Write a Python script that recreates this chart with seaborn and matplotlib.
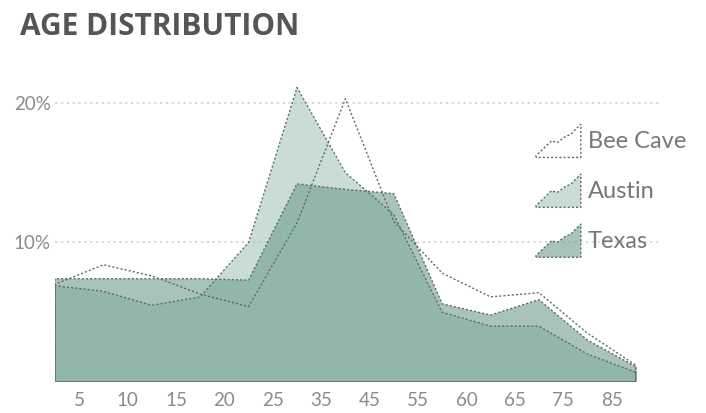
import matplotlib
matplotlib.use("Agg")
import matplotlib.pyplot as plt
import numpy as np
import seaborn as sns
from matplotlib.legend_handler import HandlerPatch
from matplotlib.patches import Patch, Polygon

# ─── Data (percent of population per age bin) ────────────────────────────────

age_bins = ["Under 5", "5-9", "10-14", "15-19", "20-24", "25-34", "35-44",
            "45-54", "55-59", "60-64", "65-74", "75-84", "85+"]
tick_labels = ["5", "10", "15", "20", "25", "35", "45", "55", "60", "65", "75", "85"]

bee_cave = [7.0, 8.4, 7.6, 6.3, 5.4, 11.4, 20.3, 11.5, 7.8, 6.1, 6.4, 3.5, 1.2]
austin = [6.9, 6.5, 5.5, 6.1, 10.0, 21.1, 15.0, 12.0, 5.0, 4.0, 4.0, 2.0, 0.7]
texas = [7.4, 7.4, 7.4, 7.4, 7.3, 14.2, 13.8, 13.5, 5.6, 4.8, 5.9, 3.0, 1.1]

series_names = ["Bee Cave", "Austin", "Texas"]
fill_colors = [(1, 1, 1, 1.0), (0.66, 0.78, 0.72, 0.6), (0.43, 0.61, 0.54, 0.6)]
edge_color = "#5e6d66"


# ─── Legend handler: small mountain-shaped area icon ─────────────────────────

class AreaHandler(HandlerPatch):
    shape = [(0, 0), (0, 0.05), (0.35, 0.5), (0.47, 0.44), (0.65, 0.62),
             (0.78, 0.7), (1, 1), (1, 0)]

    def create_artists(self, legend, orig_handle, xdescent, ydescent,
                       width, height, fontsize, trans):
        pts = [(-xdescent + x * width, -ydescent + y * height) for x, y in self.shape]
        poly = Polygon(pts, closed=True,
                       facecolor=orig_handle.get_facecolor(),
                       edgecolor=orig_handle.get_edgecolor(),
                       linestyle=(0, (1.5, 1.5)), linewidth=1.0)
        poly.set_transform(trans)
        return [poly]


# ─── Plot ────────────────────────────────────────────────────────────────────

sns.set_theme(style="white")
plt.rcParams['font.family'] = ['Lato', 'DejaVu Sans']

fig = plt.figure(figsize=(7.06, 4.13), dpi=100)
ax = fig.add_axes([55 / 706, 31 / 413, 605 / 706, 307 / 413])

x = np.arange(len(age_bins))
handles = []
for i, (name, vals, fc) in enumerate(zip(series_names, [bee_cave, austin, texas], fill_colors)):
    ax.fill_between(x, 0, vals, facecolor=fc, edgecolor="none", zorder=2 + i)
    handles.append(Patch(facecolor=fc, edgecolor=edge_color, label=name))

# dashed outlines drawn on top of every fill
for vals in [bee_cave, austin, texas]:
    ax.fill_between(x, 0, vals, facecolor="none", edgecolor=edge_color,
                    linestyle=(0, (1.5, 1.5)), linewidth=1.0, zorder=6)

# gridlines at 10% and 20%
for yv in [10, 20]:
    ax.axhline(yv, color="#d4d4d4", linestyle=(0, (1.5, 2.0)), linewidth=1.2, zorder=1)

ax.set_xlim(0, 12.5)
ax.set_ylim(0, 22.0)
ax.set_xticks(np.arange(len(tick_labels)) + 0.5)
ax.set_xticklabels(tick_labels)
ax.set_yticks([10, 20])
ax.set_yticklabels(["10%", "20%"])
ax.tick_params(axis="both", length=0, labelsize=13.5, colors="#8a8a8a")
ax.tick_params(axis="x", pad=7)
ax.tick_params(axis="y", pad=3)
sns.despine(ax=ax, left=True, bottom=True)

fig.text(20 / 706, 1 - 27 / 413, "AGE DISTRIBUTION", fontsize=21.5,
         fontweight="bold", color="#555555", va="center", ha="left",
         family=["Open Sans", "DejaVu Sans"])

fig.legend(handles=handles, labels=series_names,
           handler_map={Patch: AreaHandler()},
           loc="upper left", bbox_to_anchor=(536 / 706, 1 - 124 / 413),
           frameon=False, fontsize=17, labelcolor="#777777",
           handlelength=1.9, handleheight=1.8, handletextpad=0.3,
           labelspacing=0.7, borderpad=0, borderaxespad=0)

fig.savefig("out.png", dpi=100)
